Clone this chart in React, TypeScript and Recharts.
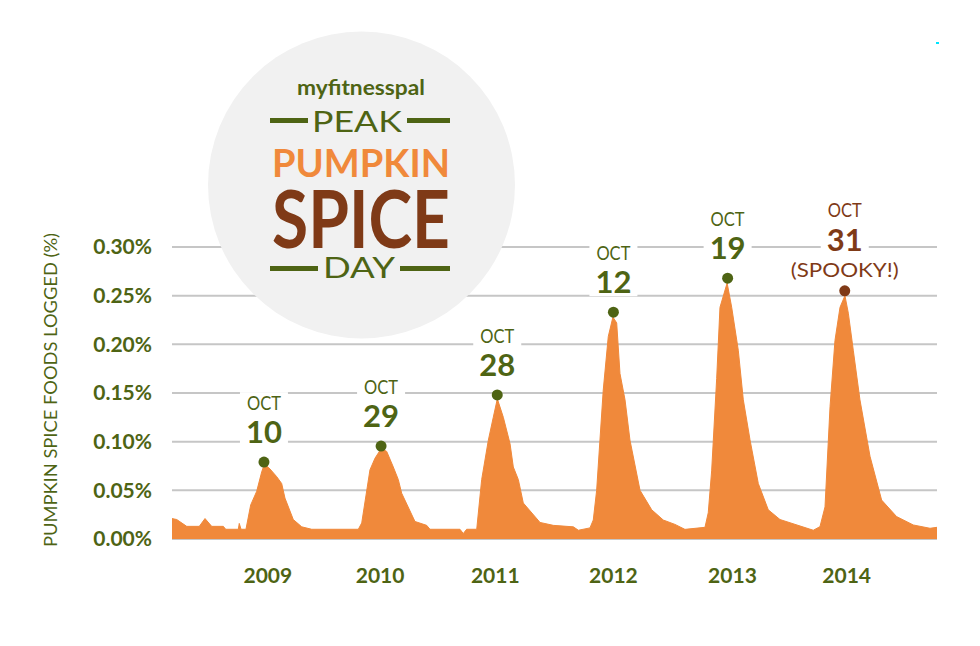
import React from "react";
import {
  AreaChart,
  Area,
  XAxis,
  YAxis,
  CartesianGrid,
  ReferenceDot,
} from "recharts";

// months since Jan 2009, share of foods logged (%)
const months = [
  0, 0.49, 1.52, 2.82, 3.41, 4.1, 5.3, 5.55, 6.85, 6.95, 7.13, 7.64, 8.13,
  8.75, 9.27, 9.55, 10.12, 10.82, 11.33, 11.67, 12.53, 13.4, 14.43, 19.25,
  19.6, 20.45, 20.97, 21.62, 22.18, 22.86, 23.38, 23.73, 25.1, 26.31, 26.65,
  29.75, 30.09, 30.44, 31.48, 31.99, 32.68, 33.19, 33.61, 34.23, 34.92, 35.26,
  35.78, 36.29, 38.02, 39.39, 41.46, 41.98, 43.18, 43.52, 43.87, 44.21, 44.55,
  45.07, 45.55, 45.94, 46.28, 46.8, 47.31, 48.35, 49.56, 50.75, 51.96, 52.99,
  55.06, 55.4, 55.75, 56.27, 56.61, 57.35, 57.82, 58.5, 59.02, 59.71, 60.57,
  61.6, 62.81, 66.25, 66.94, 67.46, 67.98, 68.49, 69.01, 69.52, 69.87, 70.38,
  71.07, 72.11, 73.31, 74.86, 76.58, 78.31, 79.03,
];
const shares = [
  0.021, 0.02, 0.013, 0.013, 0.021, 0.013, 0.013, 0.01, 0.01, 0.016, 0.01,
  0.01, 0.035, 0.049, 0.069, 0.077, 0.072, 0.064, 0.057, 0.042, 0.02, 0.0125,
  0.01, 0.01, 0.0165, 0.071, 0.083, 0.093, 0.09, 0.074, 0.061, 0.047, 0.018,
  0.014, 0.01, 0.01, 0.0056, 0.01, 0.01, 0.061, 0.1015, 0.125, 0.144, 0.125,
  0.098, 0.074, 0.061, 0.037, 0.017, 0.014, 0.0125, 0.009, 0.0114, 0.0195,
  0.05, 0.1016, 0.153, 0.208, 0.228, 0.222, 0.17, 0.143, 0.1016, 0.05, 0.03,
  0.0195, 0.015, 0.0099, 0.012, 0.027, 0.07, 0.165, 0.238, 0.263, 0.238,
  0.194, 0.143, 0.102, 0.057, 0.03, 0.02, 0.009, 0.0127, 0.033, 0.136, 0.204,
  0.238, 0.25, 0.232, 0.194, 0.143, 0.085, 0.04, 0.023, 0.0144, 0.011, 0.012,
];

const yearTicks = [9.9, 21.5, 33.4, 45.6, 57.9, 69.7];
const yearLabels = ["2009", "2010", "2011", "2012", "2013", "2014"];
const shareTicks = [0, 0.05, 0.1, 0.15, 0.2, 0.25, 0.3];

const peakMonths = [9.5, 21.6, 33.6, 45.6, 57.4, 69.5];
const peakShares = [0.079, 0.0955, 0.148, 0.233, 0.268, 0.255];
const peakDays = ["10", "29", "28", "12", "19", "31"];
const peakNotes = ["", "", "", "", "", "(SPOOKY!)"];

const GREEN = "#4e6414";
const ORANGE = "#f0893b";
const BROWN = "#7f3a17";
const FONT = "Lato, 'Open Sans', sans-serif";

const chartData = months.map((m, i) => ({ month: m, share: shares[i] }));

const PeakMarker = ({ cx, cy, day, note }: any) => {
  const color = note ? BROWN : GREEN;
  const dayBase = note ? cy - 40 : cy - 19;
  const octBase = note ? cy - 74 : cy - 52;
  return (
    <g>
      <rect x={cx - 24} y={octBase - 18} width={48} height={dayBase - octBase + 21} fill='#fff' />
      <text x={cx} y={octBase} textAnchor='middle' fontFamily={FONT} fontSize={20} fill={color} textLength={34} lengthAdjust='spacingAndGlyphs'>
        OCT
      </text>
      <text x={cx} y={dayBase} textAnchor='middle' fontFamily={FONT} fontSize={31} fontWeight={700} fill={color}>
        {day}
      </text>
      {note && (
        <text x={cx} y={cy - 14} textAnchor='middle' fontFamily={FONT} fontSize={19} fill={color} textLength={108} lengthAdjust='spacingAndGlyphs'>
          {note}
        </text>
      )}
      <circle cx={cx} cy={cy} r={5.5} fill={color} />
    </g>
  );
};

const YTitle = ({ viewBox }: any) => {
  const x = viewBox.x + 57;
  const y = viewBox.y + viewBox.height / 2 - 3;
  return (
    <text
      x={x}
      y={y}
      transform={`rotate(-90, ${x}, ${y})`}
      textAnchor='middle'
      fontFamily={FONT}
      fontSize={18}
      fill={GREEN}
      textLength={314}
      lengthAdjust='spacingAndGlyphs'
    >
      PUMPKIN SPICE FOODS LOGGED (%)
    </text>
  );
};

const Logo = () => (
  <svg width={980} height={646} style={{ position: "absolute", left: 0, top: 0 }}>
    <circle cx={361.5} cy={185} r={153.5} fill='#f1f1f1' />
    <text x={361} y={95} textAnchor='middle' fontFamily={FONT} fontSize={20} fontWeight={700} fill={GREEN} textLength={128} lengthAdjust='spacingAndGlyphs'>
      myfitnesspal
    </text>
    <rect x={270} y={118} width={38} height={5} fill={GREEN} />
    <rect x={407} y={118} width={43} height={5} fill={GREEN} />
    <text x={357} y={131.5} textAnchor='middle' fontFamily={FONT} fontSize={28} fill={GREEN} textLength={90} lengthAdjust='spacingAndGlyphs'>
      PEAK
    </text>
    <text x={361} y={176.5} textAnchor='middle' fontFamily={FONT} fontSize={39} fontWeight={700} fill={ORANGE} textLength={178} lengthAdjust='spacingAndGlyphs'>
      PUMPKIN
    </text>
    <text x={361} y={248} textAnchor='middle' fontFamily={FONT} fontSize={81} fontWeight={700} fill={BROWN} textLength={178} lengthAdjust='spacingAndGlyphs'>
      SPICE
    </text>
    <rect x={270} y={266} width={48} height={5} fill={GREEN} />
    <rect x={400} y={266} width={50} height={5} fill={GREEN} />
    <text x={359} y={278} textAnchor='middle' fontFamily={FONT} fontSize={28} fill={GREEN} textLength={72} lengthAdjust='spacingAndGlyphs'>
      DAY
    </text>
    <rect x={936} y={42} width={3} height={2} fill='#00e5ff' />
  </svg>
);

const App = () => {
  const tickStyle = { fill: GREEN, fontSize: 21, fontWeight: 700, fontFamily: FONT };
  return (
    <div style={{ position: "absolute", left: 0, top: 0, width: 980, height: 646, background: "#fff" }}>
      <AreaChart
        width={980}
        height={646}
        data={chartData}
        margin={{ top: 247, right: 43, bottom: 0, left: 0 }}
      >
        <CartesianGrid vertical={false} stroke='#c6c6c6' strokeWidth={2} />
        <XAxis
          dataKey='month'
          type='number'
          domain={[0, 79.03]}
          ticks={yearTicks}
          tickFormatter={(_v: number, i: number) => yearLabels[i]}
          axisLine={false}
          tickLine={false}
          tickSize={0}
          tickMargin={29}
          height={107}
          tick={tickStyle}
        />
        <YAxis
          type='number'
          domain={[0, 0.3]}
          ticks={shareTicks}
          tickFormatter={(v: number) => `${v.toFixed(2)}%`}
          width={172}
          axisLine={false}
          tickLine={false}
          tickSize={0}
          tickMargin={20}
          tick={tickStyle}
          label={{ content: YTitle }}
        />
        <Area
          type='linear'
          dataKey='share'
          stroke={ORANGE}
          strokeWidth={1}
          fill={ORANGE}
          fillOpacity={1}
          isAnimationActive={false}
        />
        {peakMonths.map((m, i) => (
          <ReferenceDot
            key={`peak-${i}`}
            x={m}
            y={peakShares[i]}
            r={5.5}
            ifOverflow='visible'
            shape={(p: any) => (
              <PeakMarker cx={p.cx} cy={p.cy} day={peakDays[i]} note={peakNotes[i]} />
            )}
          />
        ))}
      </AreaChart>
      <Logo />
    </div>
  );
};

export default App;
